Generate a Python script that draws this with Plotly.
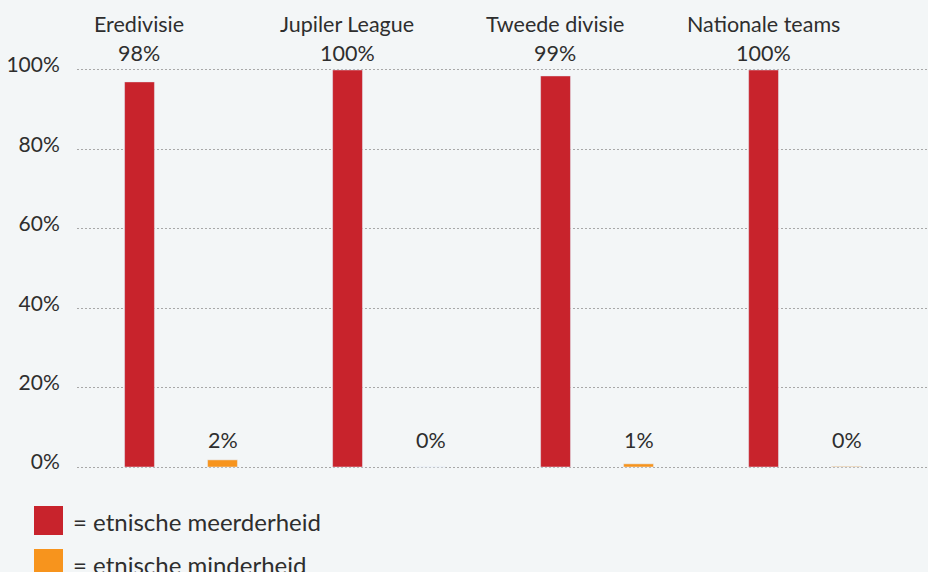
import plotly.graph_objects as go

categories = ["Eredivisie", "Jupiler League", "Tweede divisie", "Nationale teams"]
meerderheid = [97.0, 100.0, 98.5, 100.0]
minderheid = [1.8, 0.0, 0.8, 0.15]
meer_labels = ["98%", "100%", "99%", "100%"]
minder_labels = ["2%", "0%", "1%", "0%"]
legend_names = ["= etnische meerderheid", "= etnische minderheid"]
yticks = [0, 20, 40, 60, 80, 100]

RED = "#c8232c"
ORANGE = "#f7941d"
BG = "#f3f6f7"
TXT = "#2e2e2e"
FONT = "Lato"
YR = [-1, 101]


def ypaper(v):
    return (v - YR[0]) / (YR[1] - YR[0])


x = list(range(len(categories)))

fig = go.Figure()
fig.add_trace(go.Bar(x=x, y=meerderheid, marker_color=RED, name=legend_names[0], showlegend=False))
fig.add_trace(go.Bar(x=x, y=minderheid, marker_color=ORANGE, name=legend_names[1], showlegend=False))

for i, c in enumerate(categories):
    fig.add_annotation(x=i - 0.2, y=ypaper(111.6), xref="x", yref="paper", text=c, showarrow=False,
                       yanchor="middle", font=dict(family=FONT, size=21.5, color=TXT))
    fig.add_annotation(x=i - 0.2, y=ypaper(104.3), xref="x", yref="paper", text=meer_labels[i], showarrow=False,
                       yanchor="middle", font=dict(family=FONT, size=21.5, color=TXT))
    fig.add_annotation(x=i + 0.2, y=ypaper(6.9), xref="x", yref="paper", text=minder_labels[i], showarrow=False,
                       yanchor="middle", font=dict(family=FONT, size=21.5, color=TXT))

# legend drawn manually (pixel positions converted to paper coords)
L, T, W, H = 77, 66, 851, 405
for j, (name, col) in enumerate(zip(legend_names, [RED, ORANGE])):
    y0 = 506 + j * 43
    fig.add_shape(type="rect", xref="paper", yref="paper",
                  x0=(34 - L) / W, x1=(63 - L) / W,
                  y0=(T + H - (y0 + 29)) / H, y1=(T + H - y0) / H,
                  fillcolor=col, line_width=0)
    fig.add_annotation(xref="paper", yref="paper", x=(71 - L) / W, y=(T + H - (y0 + 15)) / H,
                       xanchor="left", yanchor="middle", text=name, showarrow=False,
                       font=dict(family=FONT, size=24, color=TXT))

fig.update_layout(
    width=928, height=572,
    margin=dict(l=L, r=0, t=T, b=572 - T - H),
    paper_bgcolor=BG, plot_bgcolor=BG,
    barmode="group", bargap=0.202, bargroupgap=0.64,
    font=dict(family=FONT, color=TXT),
    xaxis=dict(range=[-0.5, 3.591], visible=False, showgrid=False, zeroline=False),
    yaxis=dict(range=YR, tickvals=yticks, ticktext=[f"{v}%" for v in yticks],
               showgrid=True, gridcolor="#a8a8a8", griddash="2px,2px", gridwidth=1,
               zeroline=False, showline=False,
               ticks="outside", ticklen=12, tickcolor="rgba(0,0,0,0)",
               ticklabelshift=-5,
               tickfont=dict(family=FONT, size=21, color=TXT)),
)
fig.write_html("out.html")
